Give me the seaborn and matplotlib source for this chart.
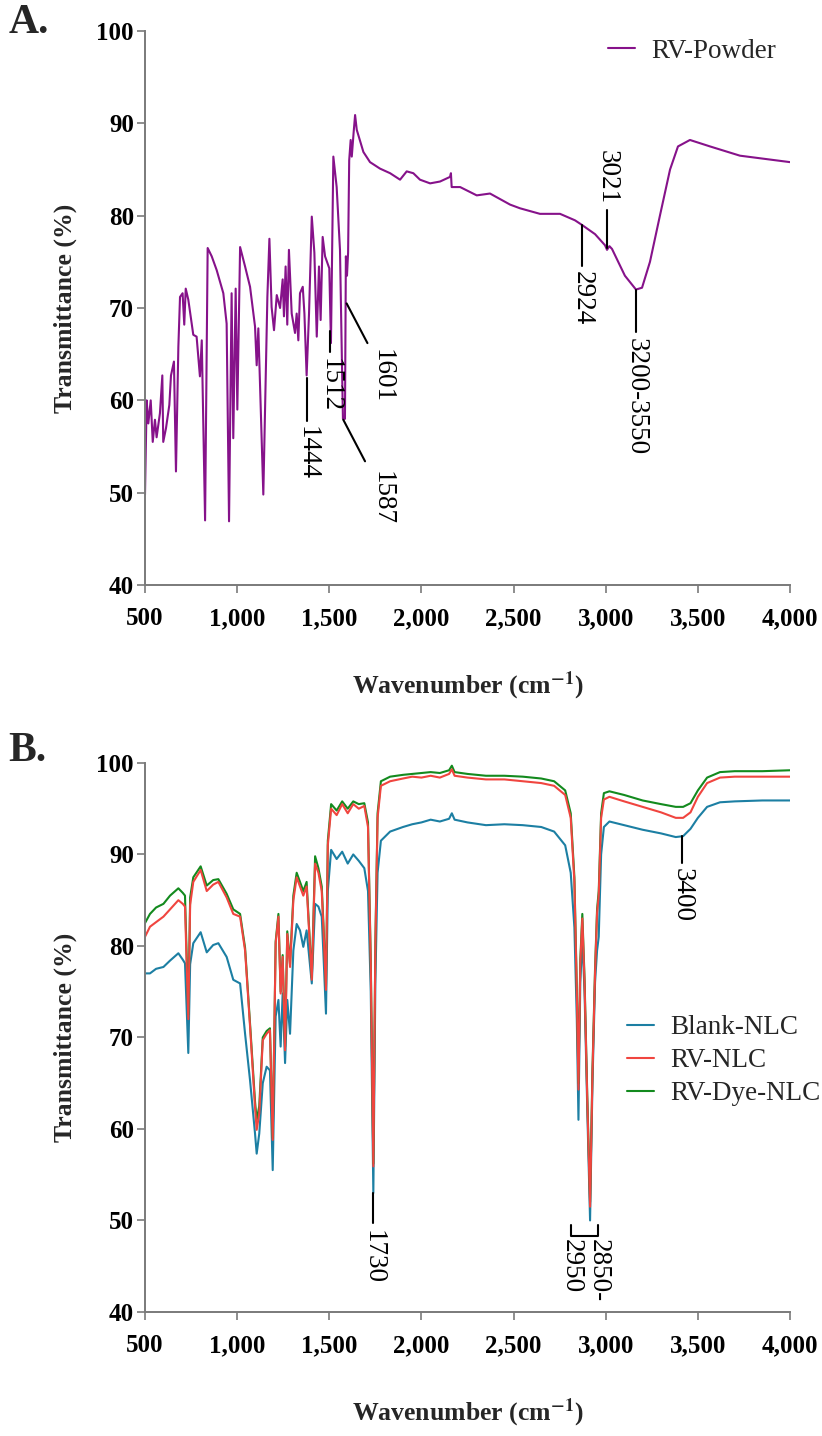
import matplotlib
matplotlib.use("Agg")
import matplotlib.pyplot as plt
from matplotlib.ticker import FuncFormatter
import seaborn as sns
import pandas as pd

# theme first, fonts after (set_style resets font.family)
sns.set_style("ticks")
plt.rcParams["font.family"] = ["Liberation Serif", "DejaVu Serif"]
plt.rcParams["mathtext.fontset"] = "stix"

# ---- Panel A: RV powder spectrum ----
wn_a = [500, 509, 518, 531, 542, 554, 563, 581, 594, 599, 614, 632, 641, 657, 668,
        681, 690, 704, 713, 721, 735, 762, 780, 798, 808, 826, 840, 862, 889, 925,
        943, 956, 970, 979, 992, 1001, 1016, 1043, 1070, 1097, 1106, 1115, 1142, 1151,
        1164, 1175, 1187, 1200, 1215, 1233, 1247, 1254, 1263, 1272, 1281, 1296, 1314,
        1323, 1332, 1341, 1356, 1365, 1377, 1390, 1405, 1419, 1432, 1444, 1453, 1464,
        1477, 1500, 1509, 1522, 1540, 1558, 1574, 1585, 1590, 1596, 1602, 1608, 1616,
        1622, 1632, 1640, 1649, 1685, 1721, 1775, 1830, 1884, 1920, 1956, 1992, 2047,
        2101, 2155, 2160, 2164, 2210, 2300, 2372, 2481, 2535, 2643, 2752, 2833, 2871,
        2942, 2996, 3007, 3020, 3034, 3104, 3164, 3197, 3240, 3294, 3349, 3392, 3457,
        3566, 3728, 4000]
rv_powder = [49.8, 60, 57.5, 60, 55.5, 57.9, 56, 58.6, 62.7, 55.5, 57, 59.5, 62.7, 64.2, 52.3,
             65.8, 71.2, 71.6, 68.2, 72.1, 70.9, 67.1, 66.9, 62.6, 66.5, 47, 76.5, 75.6, 74.1, 71.6,
             68.3, 46.9, 71.6, 55.9, 72.1, 59, 76.6, 74.5, 72.3, 68, 63.8, 67.8, 49.8, 58.6,
             71.2, 77.5, 70.1, 67.6, 71.4, 70, 73.1, 69.1, 74.5, 68.2, 76.3, 69.4, 67.3,
             69.4, 66.5, 71.6, 72.3, 69.4, 62.7, 69.4, 79.9, 76, 66.9, 74.5, 68.7, 77.7,
             75.6, 74.3, 66.2, 86.4, 83.1, 76.3, 58, 58, 75.6, 73.5, 76, 86, 88.2,
             86.4, 89, 90.9, 89.3, 86.9, 85.8, 85.1, 84.6, 83.9, 84.8, 84.6, 83.9, 83.5,
             83.7, 84.2, 84.6, 83.1, 83.1, 82.2, 82.4, 81.2, 80.8, 80.2, 80.2, 79.5, 79,
             78, 76.8, 76.3, 76.7, 76.4, 73.5, 72, 72.2, 75, 80, 85, 87.5, 88.2,
             87.5, 86.5, 85.8]

# ---- Panel B: NLC spectra ----
wn_b = [500, 527, 560, 600, 636, 681, 705, 717, 735, 745, 762, 802, 835, 870, 898, 943,
        979, 1016, 1043, 1070, 1097, 1106, 1120, 1139, 1160, 1178, 1193, 1209, 1224, 1236,
        1247, 1260, 1272, 1287, 1305, 1323, 1341, 1359, 1377, 1405, 1423, 1441, 1459, 1468,
        1482, 1492, 1510, 1540, 1570, 1600, 1630, 1660, 1690, 1710, 1725, 1739, 1750, 1762,
        1780, 1830, 1900, 1950, 2000, 2050, 2100, 2150, 2165, 2180, 2250, 2350, 2450, 2550,
        2650, 2720, 2780, 2810, 2830, 2843, 2852, 2862, 2873, 2885, 2900, 2915, 2928, 2942,
        2953, 2962, 2975, 2990, 3020, 3100, 3200, 3300, 3380, 3420, 3460, 3500, 3550, 3620,
        3700, 3850, 4000]
blank_nlc = [77, 77, 77.5, 77.7, 78.4, 79.2, 78.5, 78.1, 68.3, 78, 80.3, 81.5, 79.3, 80.1, 80.3, 78.8,
             76.3, 75.9, 70.4, 65.3, 59.5, 57.3, 59.5, 65, 66.8, 66.4, 55.5, 72.3, 74.1, 69,
             74.8, 67.2, 74.1, 70.4, 79.5, 82.4, 81.7, 79.9, 81.7, 75.9, 84.6, 84.3, 83.2, 79.2,
             72.6, 86, 90.5, 89.5, 90.3, 89, 90, 89.3, 88.5, 86, 75, 53, 76, 88,
             91.5, 92.5, 93, 93.3, 93.5, 93.8, 93.6, 93.9, 94.5, 93.8, 93.5, 93.2, 93.3, 93.2,
             93, 92.5, 91, 88, 82, 72, 61, 76, 80.8, 75, 62, 50, 65, 76,
             79.5, 81, 90, 93, 93.6, 93.2, 92.7, 92.3, 91.9, 92, 92.8, 94, 95.2, 95.7,
             95.8, 95.9, 95.9]
rv_nlc = [81, 82.1, 82.6, 83.2, 84, 85, 84.6, 84.3, 72, 84.5, 87, 88.3, 86, 86.7, 87, 85.3,
          83.5, 83.2, 79.5, 71.2, 62.4, 59.9, 61.7, 69.7, 70.4, 70.8, 58.8, 80.3, 83.2, 74.8,
          78.8, 68.6, 81.3, 77.7, 85, 87.5, 86.5, 85.5, 86.5, 76.3, 89, 88, 86, 82,
          75.2, 91, 95, 94.3, 95.5, 94.5, 95.5, 95, 95.3, 93, 78, 55.9, 80, 94,
          97.5, 98, 98.3, 98.5, 98.4, 98.6, 98.4, 98.8, 99.3, 98.6, 98.4, 98.2, 98.2, 98,
          97.8, 97.5, 96.5, 94, 87, 75, 64.3, 78, 83, 76, 63, 51.5, 66, 77,
          83.6, 85.5, 94, 96, 96.3, 95.8, 95.2, 94.6, 94, 94, 94.6, 96.3, 97.8, 98.4,
          98.5, 98.5, 98.5]
rv_dye_nlc = [82.5, 83.5, 84.2, 84.6, 85.5, 86.3, 85.8, 85.5, 72.5, 85.3, 87.5, 88.7, 86.6, 87.2, 87.3, 85.7,
              84, 83.5, 79.8, 71.5, 63, 61, 62.5, 70, 70.7, 71, 59, 80.5, 83.5, 75,
              79, 69, 81.6, 78, 85.5, 88, 87, 86, 87, 76.5, 89.8, 88.5, 86.5, 82.5,
              75.5, 91.5, 95.5, 94.8, 95.8, 95, 95.8, 95.5, 95.6, 93.5, 78.5, 56.2, 80.5, 94.5,
              98, 98.5, 98.7, 98.8, 98.9, 99, 98.9, 99.2, 99.7, 99, 98.8, 98.6, 98.6, 98.5,
              98.3, 98, 97, 94.5, 87.5, 75.5, 65, 78.5, 83.5, 76.5, 63.5, 52, 66.5, 77.5,
              84, 86, 94.5, 96.7, 96.9, 96.5, 95.9, 95.5, 95.2, 95.2, 95.6, 97, 98.4, 99,
              99.1, 99.1, 99.2]

series_b = ["Blank-NLC", "RV-NLC", "RV-Dye-NLC"]
colors_b = {"Blank-NLC": "#1c7fa3", "RV-NLC": "#f0453f", "RV-Dye-NLC": "#138a1e"}

df_a = pd.DataFrame({"wn": wn_a, "T": rv_powder})
df_b = pd.DataFrame({"wn": wn_b, "Blank-NLC": blank_nlc, "RV-NLC": rv_nlc,
                     "RV-Dye-NLC": rv_dye_nlc}).melt(id_vars="wn", var_name="sample",
                                                     value_name="T")

fig = plt.figure(figsize=(8.22, 14.36), dpi=100)
ax_a = fig.add_axes([0.1764, 0.5926, 0.7847, 0.3858])
ax_b = fig.add_axes([0.1764, 0.0864, 0.7847, 0.3823])

sns.lineplot(data=df_a, x="wn", y="T", color="#86128a", lw=1.5, label="RV-Powder",
             estimator=None, sort=False, ax=ax_a)

# draw blank, dye, then RV-NLC on top
for name in ["Blank-NLC", "RV-Dye-NLC", "RV-NLC"]:
    sns.lineplot(data=df_b[df_b["sample"] == name], x="wn", y="T", color=colors_b[name],
                 lw=1.5, label=name, estimator=None, sort=False, ax=ax_b)
h, l = ax_b.get_legend_handles_labels()
handles = dict(zip(l, h))

for ax in (ax_a, ax_b):
    ax.set_xlim(500, 4000)
    ax.set_ylim(40, 100)
    ax.set_xticks(range(500, 4001, 500))
    ax.set_yticks(range(40, 101, 10))
    ax.xaxis.set_major_formatter(FuncFormatter(lambda v, p: f"{int(v):,}"))
    for s in ["top", "right"]:
        ax.spines[s].set_visible(False)
    for s in ["left", "bottom"]:
        ax.spines[s].set_color("#7a7a7a")
        ax.spines[s].set_linewidth(1.4)
    ax.tick_params(axis="both", colors="#7a7a7a", length=6, width=1.2, labelcolor="black")
    ax.tick_params(axis="y", pad=2)
    ax.tick_params(axis="x", pad=10)
    for lab in ax.get_xticklabels() + ax.get_yticklabels():
        lab.set_fontsize(18)
        lab.set_fontweight("bold")
    ax.set_xlabel("Wavenumber (cm$^{\\mathbf{-1}}$)", fontsize=18.5, fontweight="bold", labelpad=28)
    ax.set_ylabel("Transmittance (%)", fontsize=18.5, fontweight="bold", labelpad=14)

ax_a.legend(loc="upper left", bbox_to_anchor=(0.68, 1.03), frameon=False, fontsize=19.5,
            handlelength=1.0, handletextpad=0.6)
ax_b.legend([handles[n] for n in series_b], series_b, loc="upper left",
            bbox_to_anchor=(0.71, 0.585), frameon=False, fontsize=19.5,
            handlelength=1.0, handletextpad=0.6, labelspacing=0.3)

ann = dict(fontsize=19.5, rotation=-90, color="black")
lk = dict(color="black", lw=1.5)

# panel A annotations
ax_a.plot([1377, 1377], [62.4, 57.8], **lk)
ax_a.text(1377, 57.2, "1444", ha="center", va="top", **ann)
ax_a.plot([1504, 1504], [67.5, 65.2], **lk)
ax_a.text(1504, 64.6, "1512", ha="center", va="top", **ann)
ax_a.plot([1576, 1694], [57.9, 53.4], **lk)
ax_a.text(1784, 52.3, "1587", ha="center", va="top", **ann)
ax_a.plot([1594, 1707], [70.5, 66.2], **lk)
ax_a.text(1784, 65.6, "1601", ha="center", va="top", **ann)
ax_a.plot([2871, 2871], [79, 74.6], **lk)
ax_a.text(2871, 74.0, "2924", ha="center", va="top", **ann)
ax_a.plot([3007, 3007], [76.5, 80.6], **lk)
ax_a.text(3007, 81.2, "3021", ha="center", va="bottom", **ann)
ax_a.plot([3164, 3164], [72, 67.4], **lk)
ax_a.text(3164, 66.8, "3200-3550", ha="center", va="top", **ann)

# panel B annotations
ax_b.plot([1739, 1739], [53, 49.7], **lk)
ax_b.text(1739, 49.0, "1730", ha="center", va="top", **ann)
ax_b.plot([2810, 2810, 2960, 2960], [49.5, 48.3, 48.3, 49.5], **lk)
ax_b.text(2815, 48.0, "2950", ha="center", va="top", **ann)
ax_b.text(2957, 48.0, "2850-", ha="center", va="top", **ann)
ax_b.plot([3414, 3414], [92, 89.1], **lk)
ax_b.text(3414, 88.5, "3400", ha="center", va="top", **ann)

fig.text(0.01, 0.984, "A.", fontsize=30, fontweight="bold", va="center")
fig.text(0.01, 0.477, "B.", fontsize=30, fontweight="bold", va="center")

fig.savefig("out.png", dpi=100)
